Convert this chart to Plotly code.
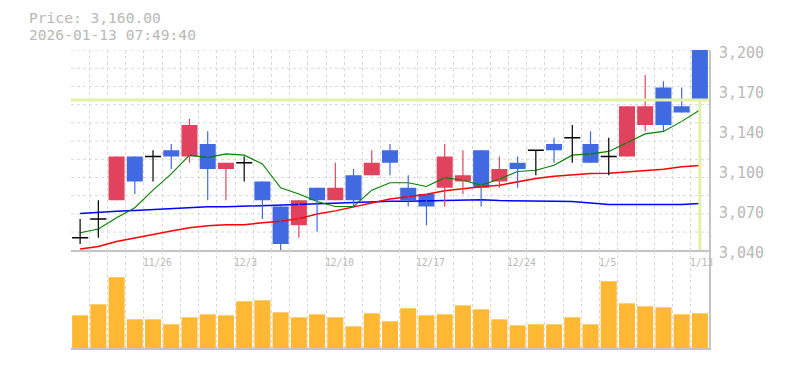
import plotly.graph_objects as go

# ---------------- data ----------------
dates = ["11/19", "11/20", "11/21", "11/25", "11/26", "11/27", "11/28",
         "12/1", "12/2", "12/3", "12/4", "12/5", "12/8", "12/9", "12/10",
         "12/11", "12/12", "12/15", "12/16", "12/17", "12/18", "12/19",
         "12/22", "12/23", "12/24", "12/25", "12/26", "12/29", "12/30",
         "1/5", "1/6", "1/7", "1/8", "1/9", "1/13"]
opens = [3050, 3065, 3080, 3115, 3115, 3120, 3115, 3125, 3105, 3110, 3095, 3075,
         3060, 3090, 3080, 3100, 3100, 3120, 3090, 3085, 3090, 3095, 3120, 3095,
         3110, 3120, 3125, 3130, 3125, 3115, 3115, 3140, 3170, 3155, 3200]
highs = [3065, 3080, 3115, 3115, 3120, 3125, 3145, 3135, 3110, 3115, 3095, 3075,
         3080, 3090, 3110, 3105, 3120, 3125, 3100, 3085, 3125, 3120, 3120, 3115,
         3115, 3120, 3130, 3140, 3135, 3130, 3155, 3180, 3175, 3170, 3200]
lows = [3045, 3050, 3080, 3085, 3095, 3105, 3110, 3080, 3080, 3095, 3065, 3040,
        3050, 3055, 3080, 3075, 3100, 3100, 3075, 3060, 3075, 3085, 3075, 3090,
        3090, 3100, 3110, 3110, 3110, 3100, 3115, 3135, 3135, 3150, 3160]
closes = [3050, 3065, 3115, 3095, 3115, 3115, 3140, 3105, 3110, 3110, 3080, 3045,
          3080, 3080, 3090, 3080, 3110, 3110, 3080, 3075, 3115, 3100, 3090, 3105,
          3105, 3120, 3120, 3130, 3110, 3115, 3155, 3155, 3140, 3150, 3160]
ma_short = [3054, 3057, 3066, 3074, 3088, 3101, 3116, 3114, 3117, 3116, 3109, 3090,
            3085, 3079, 3075, 3075, 3088, 3094, 3094, 3091, 3098, 3096, 3092, 3097,
            3103, 3104, 3108, 3116, 3117, 3119, 3126, 3133, 3135, 3143, 3152]
ma_mid = [3041, 3043, 3047, 3050, 3052.5, 3055.5, 3058, 3059.7, 3060.5, 3060.5,
          3062, 3063.2, 3065.3, 3069, 3071.5, 3074.7, 3078, 3081, 3082.7, 3084.8,
          3087.5, 3089.3, 3090.7, 3092, 3094.7, 3097.3, 3099.2, 3100.5, 3101.3,
          3101.6, 3102.7, 3103.2, 3104.8, 3106.7, 3107.7]
ma_long = [3069.3, 3070.4, 3071.2, 3071.7, 3072.5, 3073.3, 3074.4, 3074.7, 3074.7,
           3075.2, 3075.7, 3076.3, 3076.8, 3077.0, 3077.3, 3077.9, 3078.4, 3079.2,
           3079.2, 3079.5, 3079.7, 3080.3, 3080.3, 3079.7, 3079.7, 3079.5, 3079.2,
           3078.9, 3077.6, 3076.5, 3076.5, 3076.5, 3076.5, 3076.5, 3077.3]
volumes = [9800, 13100, 21200, 8600, 8600, 7100, 9200, 10100, 9800, 14000, 14300,
           10700, 9200, 10100, 9200, 6500, 10400, 8000, 11900, 9800, 10100, 12800,
           11600, 8600, 6800, 7100, 7100, 9200, 7100, 20000, 13400, 12500, 12200,
           10100, 10400]
label_dates = ["11/26", "12/3", "12/10", "12/17", "12/24", "1/5", "1/13"]
y_tick_values = [3040, 3072, 3104, 3136, 3168, 3200]
y_tick_text = ["3,040", "3,070", "3,100", "3,140", "3,170", "3,200"]
price_range = [3040, 3200]
volume_max = 29300
cursor_price = 3160
header_lines = ["Price: 3,160.00", "2026-01-13 07:49:40"]

# ---------------- styling ----------------
W, H = 785, 370
ML, MR, MT, MB = 71, 76, 50, 22
PW, PH = W - ML - MR, H - MT - MB
PRICE_BOTTOM_PX = 250.3
UP = "#e1435f"
DOWN = "#4169e1"
DOJI = "#000000"
VOL = "#ffb833"
GRID = "#d9d9d9"
AXIS = "#c4c4c4"
TEXT = "#b8b8b8"
CROSS = "#e2f1a6"
MONO = "DejaVu Sans Mono, Liberation Mono, monospace"
BODY_W = 0.88


def py_to_paper(py):
    return (H - MB - py) / PH


def px_to_paper(px):
    return (px - ML) / PW


price_dom_bottom = py_to_paper(PRICE_BOTTOM_PX)
n = len(dates)
idx = list(range(n))

fig = go.Figure()

# moving averages (under candles)
for series, color, width in [(ma_long, "#0000ff", 1.5), (ma_mid, "#ff0000", 1.5),
                             (ma_short, "#008000", 1.1)]:
    fig.add_trace(go.Scatter(x=idx, y=series, mode="lines",
                             line=dict(color=color, width=width, shape="linear"),
                             xaxis="x", yaxis="y", hoverinfo="skip", showlegend=False))

groups = {
    "up": [i for i in idx if closes[i] > opens[i]],
    "down": [i for i in idx if closes[i] < opens[i]],
    "doji": [i for i in idx if closes[i] == opens[i]],
}
colors = {"up": UP, "down": DOWN, "doji": DOJI}

# wicks
for key, members in groups.items():
    wx, wy = [], []
    for i in members:
        wx += [i, i, None]
        wy += [lows[i], highs[i], None]
    fig.add_trace(go.Scatter(x=wx, y=wy, mode="lines",
                             line=dict(color=colors[key], width=1.2),
                             xaxis="x", yaxis="y", hoverinfo="skip", showlegend=False))

# bodies
for key in ["up", "down"]:
    members = groups[key]
    fig.add_trace(go.Bar(
        x=members,
        y=[abs(closes[i] - opens[i]) for i in members],
        base=[min(opens[i], closes[i]) for i in members],
        width=BODY_W, marker=dict(color=colors[key], line=dict(width=0)),
        xaxis="x", yaxis="y", hoverinfo="skip", showlegend=False))

# doji horizontal bars
dx, dy = [], []
for i in groups["doji"]:
    dx += [i - BODY_W / 2, i + BODY_W / 2, None]
    dy += [closes[i], closes[i], None]
fig.add_trace(go.Scatter(x=dx, y=dy, mode="lines", line=dict(color=DOJI, width=1.5),
                         xaxis="x", yaxis="y", hoverinfo="skip", showlegend=False))

# volume
fig.add_trace(go.Bar(x=idx, y=volumes, width=BODY_W, marker=dict(color=VOL, line=dict(width=0)),
                     xaxis="x2", yaxis="y2", hoverinfo="skip", showlegend=False))

# horizontal grid of price panel (square grid, 11 divisions)
for k in range(12):
    gy = price_range[0] + k * (price_range[1] - price_range[0]) / 11
    fig.add_shape(type="line", xref="x", yref="y", x0=-0.5, x1=n - 0.5, y0=gy, y1=gy,
                  line=dict(color=GRID, width=1, dash="3px,3px"), layer="below")

# crosshair at cursor
fig.add_shape(type="line", xref="x", yref="y", x0=-0.5, x1=n - 0.5,
              y0=cursor_price, y1=cursor_price, line=dict(color=CROSS, width=3),
              layer="above")
fig.add_shape(type="line", xref="x", yref="y", x0=idx[-1], x1=idx[-1],
              y0=price_range[0], y1=cursor_price, line=dict(color=CROSS, width=3),
              layer="above")

boundaries = [i - 0.5 for i in idx] + [n - 0.5]
xcommon = dict(range=[-0.5, n - 0.5], tickvals=boundaries, showticklabels=False,
               ticks="", showgrid=True, gridcolor=GRID, gridwidth=1, griddash="3px,3px",
               zeroline=False, showline=True, linecolor=AXIS, linewidth=1.5, fixedrange=True)

annotations = []
for lab in label_dates:
    annotations.append(dict(x=dates.index(lab) - 0.5, xref="x2", y=py_to_paper(262), yref="paper",
                            text=lab, showarrow=False, xanchor="left", yanchor="middle",
                            xshift=-3, font=dict(family=MONO, size=9.6, color=TEXT)))
for line_text, cy in zip(header_lines, [17.5, 34.5]):
    annotations.append(dict(x=px_to_paper(28), xref="paper", y=py_to_paper(cy), yref="paper",
                            text=line_text, showarrow=False, xanchor="left", yanchor="middle",
                            borderpad=0, font=dict(family=MONO, size=14.6, color=TEXT)))
# price-axis labels (placed by the y scale)
for val, txt in zip(y_tick_values, y_tick_text):
    annotations.append(dict(x=1, xref="paper", y=val, yref="y", text=txt, showarrow=False,
                            xanchor="left", yanchor="middle", xshift=8, yshift=-3,
                            font=dict(family=MONO, size=15, color=TEXT)))

fig.update_layout(
    width=W, height=H,
    margin=dict(l=ML, r=MR, t=MT, b=MB, pad=0),
    paper_bgcolor="white", plot_bgcolor="white",
    barmode="overlay",
    showlegend=False,
    xaxis=dict(domain=[0, 1], anchor="y", **xcommon),
    xaxis2=dict(domain=[0, 1], anchor="y2", matches="x", **xcommon),
    yaxis=dict(domain=[price_dom_bottom, 1], anchor="x", range=price_range,
               side="right", showticklabels=False, ticks="", showgrid=False,
               zeroline=False, showline=True, linecolor=AXIS, linewidth=1.5,
               fixedrange=True),
    yaxis2=dict(domain=[0, price_dom_bottom], anchor="x2", range=[0, volume_max],
                side="right", showticklabels=False, ticks="", showgrid=False,
                zeroline=False, showline=True, linecolor=AXIS, linewidth=1.5,
                fixedrange=True),
    annotations=annotations,
)

fig.write_html("out.html", config={"displayModeBar": False},
               post_script="document.body.style.margin='0';")
